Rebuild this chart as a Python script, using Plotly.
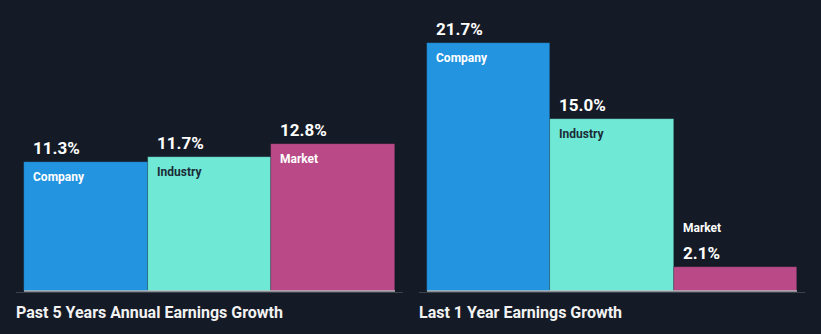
import plotly.graph_objects as go

# Earnings growth comparison data
group_titles = ["Past 5 Years Annual Earnings Growth", "Last 1 Year Earnings Growth"]
categories = ["Company", "Industry", "Market"]
past_5y_growth = [11.3, 11.7, 12.8]
last_1y_growth = [21.7, 15.0, 2.1]

bar_colors = ["#2394df", "#6fe8d5", "#b94a87"]
name_colors = ["#ffffff", "#1b2b36", "#ffffff"]
BG = "#151b26"

W, H = 821, 334
PX_PER_UNIT = 11.45
plot_bottom = 292
y_min = -1 / PX_PER_UNIT
y_max = y_min + plot_bottom / PX_PER_UNIT

domains = [[16 / W, 403 / W], [419 / W, 805 / W]]
x_range = [-0.5 - 8 / 123.3, 2.5 + 8 / 123.3]

fig = go.Figure()
series = [past_5y_growth, last_1y_growth]
annotations = []
shapes = []

for g, values in enumerate(series):
    xa = "x" if g == 0 else "x2"
    ya = "y" if g == 0 else "y2"
    fig.add_trace(go.Bar(
        x=list(range(len(categories))),
        y=values,
        width=1,
        marker=dict(color=bar_colors, line=dict(width=0.6, color="rgba(21,27,38,0.35)")),
        xaxis=xa, yaxis=ya,
        hoverinfo="skip",
        showlegend=False,
    ))
    for i, (cat, v) in enumerate(zip(categories, values)):
        small = v < 5
        annotations.append(dict(
            x=i - 0.5, y=v, xref=xa, yref=ya, xanchor="left", yanchor="middle",
            xshift=7, yshift=14, showarrow=False, text=f"<b>{v:.1f}%</b>",
            font=dict(family="Roboto", size=17, color="#ffffff"),
        ))
        annotations.append(dict(
            x=i - 0.5, y=v, xref=xa, yref=ya, xanchor="left", yanchor="middle",
            xshift=7, yshift=(39 if small else -15), showarrow=False,
            text=f"<b>{cat}</b>",
            font=dict(family="Roboto", size=12,
                      color="#ffffff" if small else name_colors[i]),
        ))
    # baseline under the bars
    shapes.append(dict(type="line", xref=xa, yref=ya, x0=-0.5, x1=2.5, y0=0, y1=0,
                       line=dict(color="#ffffff", width=1)))
    # group title below the axis
    annotations.append(dict(
        x=domains[g][0], y=-(312 - plot_bottom) / plot_bottom, xref="paper", yref="paper",
        xanchor="left", yanchor="middle", xshift=-2, showarrow=False,
        text=f"<b>{group_titles[g]}</b>",
        font=dict(family="Roboto", size=16, color="#f2f2f2"),
    ))

axis_common = dict(range=x_range, showgrid=False, zeroline=False, showticklabels=False,
                   showline=True, linecolor="#3d434d", linewidth=1, fixedrange=True)
yaxis_common = dict(range=[y_min, y_max], showgrid=False, zeroline=False,
                    showticklabels=False, showline=False, fixedrange=True)

fig.update_layout(
    width=W, height=H,
    margin=dict(l=0, r=0, t=0, b=H - plot_bottom),
    paper_bgcolor=BG, plot_bgcolor=BG,
    xaxis=dict(domain=domains[0], anchor="y", **axis_common),
    xaxis2=dict(domain=domains[1], anchor="y2", **axis_common),
    yaxis=dict(anchor="x", **yaxis_common),
    yaxis2=dict(anchor="x2", **yaxis_common),
    annotations=annotations,
    shapes=shapes,
    bargap=0,
)

fig.write_html("out.html", config={"displayModeBar": False})
